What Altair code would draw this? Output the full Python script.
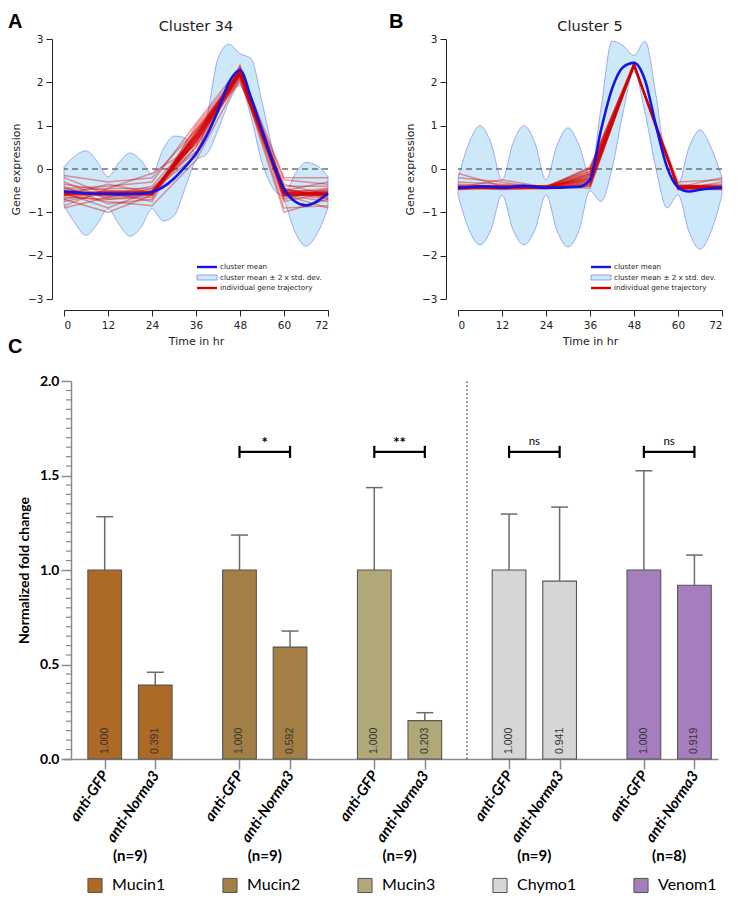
import altair as alt
import pandas as pd

# ---------------- Panels A / B : cluster trajectories ----------------
HOURS = [0, 12, 24, 36, 48, 60, 72]

A_TRAJ = [
    [-0.55, -0.58, -0.55, 0.70, 2.25, -0.55, -0.55],
    [-0.50, -0.60, -0.58, 0.85, 2.20, -0.60, -0.62],
    [-0.62, -0.55, -0.52, 0.60, 2.30, -0.50, -0.58],
    [-0.45, -0.65, -0.60, 0.95, 2.15, -0.65, -0.50],
    [-0.70, -0.50, -0.50, 0.50, 2.35, -0.45, -0.65],
    [-0.30, -0.70, -0.65, 0.80, 2.10, -0.70, -0.45],
    [-0.85, -0.45, -0.45, 0.40, 2.20, -0.55, -0.70],
    [-0.40, -0.80, -0.70, 1.00, 2.25, -0.40, -0.40],
    [-0.60, -0.35, -0.55, 0.65, 2.05, -0.60, -0.75],
    [-0.20, -0.60, -0.40, 0.75, 2.30, -0.50, -0.30],
    [-0.55, -0.90, -0.50, 0.30, 2.40, -0.75, -0.55],
    [-0.75, -0.55, -0.75, 0.90, 2.00, -0.35, -0.60],
    [-0.50, -0.45, -0.10, 0.55, 2.20, -0.90, -0.85],
    [-0.65, -0.70, -0.60, 0.85, 2.30, -0.20, -0.20],
    [-0.35, -0.50, -0.55, 0.70, 2.15, -0.60, -0.90],
    [-0.90, -0.65, -0.45, 0.60, 2.25, -0.50, -0.50],
    [-0.58, -0.52, -0.60, 0.78, 2.18, -0.58, -0.60],
    [-0.52, -0.62, -0.57, 0.68, 2.28, -0.62, -0.52],
    [-0.60, -0.75, -0.85, 0.20, 2.10, -0.45, -0.68],
    [-0.45, -0.40, -0.30, 1.05, 2.35, -0.55, -0.45],
    [-0.15, -0.30, -0.20, 0.90, 2.20, -0.25, -0.35],
    [-0.70, -1.00, -0.60, 0.50, 2.15, -1.00, -0.70],
    [-0.56, -0.56, -0.56, 0.72, 2.22, -0.56, -0.57],
    [-0.54, -0.58, -0.54, 0.76, 2.24, -0.58, -0.56],
    [-0.57, -0.55, -0.57, 0.66, 2.20, -0.54, -0.59],
    [-0.53, -0.57, -0.53, 0.80, 2.26, -0.57, -0.55],
    [-0.59, -0.59, -0.58, 0.62, 2.19, -0.60, -0.60],
    [-0.55, -0.54, -0.52, 0.74, 2.23, -0.53, -0.54],
    [-0.58, -0.60, -0.56, 0.70, 2.21, -0.59, -0.61],
    [-0.52, -0.55, -0.55, 0.78, 2.25, -0.55, -0.53],
    [-0.60, -0.57, -0.59, 0.64, 2.18, -0.56, -0.58],
    [-0.54, -0.53, -0.54, 0.82, 2.27, -0.61, -0.57],
]

B_TRAJ = [
    [-0.42, -0.40, -0.45, -0.40, 2.40, -0.40, -0.42],
    [-0.45, -0.42, -0.40, -0.30, 2.42, -0.42, -0.45],
    [-0.40, -0.45, -0.42, -0.20, 2.38, -0.38, -0.40],
    [-0.38, -0.40, -0.45, -0.10, 2.40, -0.45, -0.48],
    [-0.48, -0.38, -0.40, 0.00, 2.45, -0.40, -0.38],
    [-0.20, -0.30, -0.45, -0.35, 2.36, -0.48, -0.30],
    [-0.44, -0.44, -0.38, -0.45, 2.40, -0.35, -0.44],
    [-0.40, -0.48, -0.42, 0.05, 2.42, -0.42, -0.20],
    [-0.30, -0.35, -0.40, -0.25, 2.38, -0.40, -0.42],
    [-0.46, -0.42, -0.44, -0.15, 2.40, -0.44, -0.46],
    [-0.42, -0.25, -0.42, -0.05, 2.41, -0.38, -0.40],
    [-0.45, -0.46, -0.46, -0.40, 2.39, -0.46, -0.43],
    [-0.35, -0.40, -0.40, -0.28, 2.43, -0.40, -0.35],
    [-0.43, -0.43, -0.43, -0.12, 2.40, -0.43, -0.43],
    [-0.10, -0.40, -0.41, -0.38, 2.40, -0.30, -0.25],
    [-0.47, -0.45, -0.44, 0.02, 2.44, -0.47, -0.45],
    [-0.41, -0.41, -0.39, -0.22, 2.37, -0.41, -0.42],
    [-0.44, -0.38, -0.43, -0.33, 2.41, -0.44, -0.41],
    [-0.42, -0.42, -0.42, -0.18, 2.40, -0.42, -0.42],
    [-0.43, -0.41, -0.43, -0.25, 2.41, -0.41, -0.43],
    [-0.41, -0.43, -0.41, -0.10, 2.39, -0.43, -0.41],
    [-0.44, -0.42, -0.44, -0.30, 2.42, -0.44, -0.44],
    [-0.40, -0.40, -0.40, -0.05, 2.40, -0.40, -0.40],
    [-0.43, -0.44, -0.42, -0.22, 2.38, -0.42, -0.44],
    [-0.42, -0.41, -0.43, -0.15, 2.42, -0.43, -0.42],
    [-0.45, -0.43, -0.41, -0.35, 2.40, -0.41, -0.45],
]

BAND_HOURS = [0, 3, 6, 9, 12, 15, 18, 21, 24, 27, 30, 33, 36,
              39, 42, 45, 48, 51, 54, 57, 60, 63, 66, 69, 72]

A_UPPER = [0.05, 0.30, 0.42, 0.18, -0.18, 0.15, 0.37, 0.20, -0.12, 0.45, 0.76, 0.72, 0.38,
           1.20, 2.55, 2.88, 2.66, 2.55, 1.55, 0.40, -0.60, -0.12, 0.15, 0.08, -0.18]
A_LOWER = [-0.85, -1.25, -1.53, -1.28, -0.92, -1.28, -1.55, -1.35, -0.92, -1.20, -1.08, -0.45, 0.20,
           0.35, 0.90, 1.55, 1.92, 1.20, 0.15, -0.45, -0.72, -1.45, -1.78, -1.50, -0.90]
A_MEAN = [-0.52, -0.54, -0.56, -0.57, -0.57, -0.58, -0.58, -0.57, -0.53, -0.42, -0.22, 0.05, 0.35,
          0.78, 1.35, 2.00, 2.28, 1.65, 0.90, 0.15, -0.45, -0.75, -0.84, -0.75, -0.56]

B_UPPER = [-0.22, 0.60, 1.00, 0.60, -0.25, 0.60, 1.00, 0.60, -0.25, 0.55, 0.95, 0.55, -0.15,
           1.40, 2.95, 2.85, 2.62, 2.95, 1.70, 0.00, -0.35, 0.50, 0.90, 0.50, -0.20]
B_LOWER = [-0.60, -1.40, -1.75, -1.40, -0.60, -1.40, -1.75, -1.40, -0.60, -1.42, -1.80, -1.42, -0.50,
           -0.75, 0.00, 1.30, 2.25, 1.30, 0.00, -0.90, -0.60, -1.45, -1.85, -1.45, -0.60]
B_MEAN = [-0.43, -0.42, -0.40, -0.41, -0.43, -0.41, -0.39, -0.41, -0.43, -0.43, -0.42, -0.41, -0.25,
          0.90, 1.85, 2.35, 2.45, 2.05, 1.00, 0.05, -0.42, -0.52, -0.48, -0.45, -0.43]

CLUSTER_LEGEND = ["cluster mean", "cluster mean \u00b1 2 x std. dev.", "individual gene trajectory"]
TIME_TICKS = [0, 12, 24, 36, 48, 60, 72]
EXPR_TICKS = [-3, -2, -1, 0, 1, 2, 3]

# ---------------- Panel C : qPCR bars ----------------
GENES = ["Mucin1", "Mucin2", "Mucin3", "Chymo1", "Venom1"]
GENE_COLORS = ["#ad6a27", "#a37f45", "#b0a878", "#d6d6d6", "#a57ebe"]
TREATMENTS = ["anti-GFP", "anti-Norma3"]
GFP_MEAN = [1.000, 1.000, 1.000, 1.000, 1.000]
GFP_ERR_TOP = [1.282, 1.185, 1.436, 1.296, 1.525]
NORMA_MEAN = [0.391, 0.592, 0.203, 0.941, 0.919]
NORMA_ERR_TOP = [0.459, 0.677, 0.245, 1.333, 1.079]
N_LABELS = ["(n=9)", "(n=9)", "(n=9)", "(n=9)", "(n=8)"]
SIG_LABELS = ["", "*", "**", "ns", "ns"]
SIG_LEVEL = 1.625
FOLD_TICKS = [0.0, 0.5, 1.0, 1.5, 2.0]
MINOR_FOLD_TICKS = [round(0.05 * k, 2) for k in range(1, 40) if k % 10 != 0]
SEPARATOR_AFTER_GROUP = 2  # dotted line after Mucin3

BLUE = "#1414e8"
RED = "#d60000"
BAND_FILL = "#cde8f8"
BAND_EDGE = "#7b8cf0"
DARK = "#222222"
FONT_AB = "DejaVu Sans"
FONT_C = "Lato"

PW, PH = 264, 260
LETTER_BASELINE = -11


def text_layer(txt, x, y, **kw):
    return alt.Chart(pd.DataFrame({"t": [txt]})).mark_text(**kw).encode(
        text="t:N", x=alt.value(x), y=alt.value(y))


def cluster_panel(title, letter, letter_x, traj, upper, lower, mean):
    xs = alt.Scale(domain=[0, 72], nice=False, zero=False)
    ys = alt.Scale(domain=[-3, 3], nice=False, zero=False)
    xax = alt.Axis(values=TIME_TICKS, title="Time in hr", offset=11, grid=False,
                   domainColor=DARK, tickColor=DARK, tickSize=6, labelFontSize=10.5,
                   labelColor=DARK, titleFontSize=11, titleFontWeight="normal",
                   titleColor=DARK, labelPadding=4, titlePadding=5, labelFont=FONT_AB,
                   titleFont=FONT_AB, format="d")
    yax = alt.Axis(values=EXPR_TICKS, title="Gene expression", offset=12, grid=False,
                   domainColor=DARK, tickColor=DARK, tickSize=6, labelFontSize=10.5,
                   labelColor=DARK, titleFontSize=11, titleFontWeight="normal",
                   titleColor=DARK, labelPadding=3, titlePadding=6, labelFont=FONT_AB,
                   titleFont=FONT_AB, format="d")

    bdf = pd.DataFrame({"hour": BAND_HOURS, "upper": upper, "lower": lower, "mean": mean})
    rows = []
    for gi, vals in enumerate(traj):
        for h, v in zip(HOURS, vals):
            rows.append({"gene": gi, "hour": h, "value": v})
    tdf = pd.DataFrame(rows)

    band = alt.Chart(bdf).mark_area(
        fill=BAND_FILL, stroke=BAND_EDGE, strokeWidth=0.7, interpolate="monotone"
    ).encode(
        x=alt.X("hour:Q", scale=xs, axis=xax),
        y=alt.Y("lower:Q", scale=ys, axis=yax),
        y2="upper:Q",
    )
    zero = alt.Chart(pd.DataFrame({"y": [0]})).mark_rule(
        color="#707070", strokeDash=[6, 4], strokeWidth=1.5
    ).encode(y=alt.Y("y:Q", scale=ys))
    reds = alt.Chart(tdf).mark_line(color=RED, opacity=0.38, strokeWidth=1.5).encode(
        x=alt.X("hour:Q", scale=xs),
        y=alt.Y("value:Q", scale=ys),
        detail="gene:N",
    )
    blue = alt.Chart(bdf).mark_line(color=BLUE, strokeWidth=2.6, interpolate="monotone").encode(
        x=alt.X("hour:Q", scale=xs),
        y=alt.Y("mean:Q", scale=ys),
    )

    layers = [band, zero, reds, blue]

    # in-plot legend
    rows_y = [228, 238.5, 249]
    layers.append(alt.Chart(pd.DataFrame({"t": [CLUSTER_LEGEND[0]]})).mark_rule(
        color=BLUE, strokeWidth=2.4).encode(x=alt.value(133), x2=alt.value(153), y=alt.value(rows_y[0])))
    layers.append(alt.Chart(pd.DataFrame({"t": [CLUSTER_LEGEND[1]]})).mark_rect(
        fill=BAND_FILL, stroke=BAND_EDGE, strokeWidth=0.8).encode(
        x=alt.value(133), x2=alt.value(153), y=alt.value(rows_y[1] - 2.5), y2=alt.value(rows_y[1] + 2.5)))
    layers.append(alt.Chart(pd.DataFrame({"t": [CLUSTER_LEGEND[2]]})).mark_rule(
        color=RED, strokeWidth=2.4).encode(x=alt.value(133), x2=alt.value(153), y=alt.value(rows_y[2])))
    for txt, yy in zip(CLUSTER_LEGEND, rows_y):
        layers.append(text_layer(txt, 156, yy, align="left", baseline="middle", fontSize=7.2,
                                 font=FONT_AB, color=DARK))

    # panel title and letter
    layers.append(text_layer(title, PW / 2, -8, align="center", baseline="alphabetic",
                             fontSize=14.5, font=FONT_AB, color=DARK))
    layers.append(text_layer(letter, letter_x, LETTER_BASELINE, align="left", baseline="alphabetic",
                             fontSize=20, fontWeight="bold", font="Liberation Sans", color="black"))

    return alt.layer(*layers).properties(width=PW, height=PH)


panel_a = cluster_panel("Cluster 34", "A", -56, A_TRAJ, A_UPPER, A_LOWER, A_MEAN)
panel_b = cluster_panel("Cluster 5", "B", -69, B_TRAJ, B_UPPER, B_LOWER, B_MEAN)

# ---------------- Panel C ----------------
GROUP_STEP = 8
UNIT_PX = 16.84
AXIS_INSET = 7  # y axis drawn 7px inside the panel's left edge
X_MIN = -AXIS_INSET / UNIT_PX
X_MAX = 38.4
CW = round((X_MAX - X_MIN) * UNIT_PX)
CH = 378

bar_rows = []
for gi, g in enumerate(GENES):
    for ti, t in enumerate(TREATMENTS):
        m = [GFP_MEAN, NORMA_MEAN][ti][gi]
        top = [GFP_ERR_TOP, NORMA_ERR_TOP][ti][gi]
        pos = gi * GROUP_STEP + 2 + 3 * ti
        bar_rows.append(dict(gene=g, treat=t, pos=pos, lo=pos - 1, hi=pos + 1,
                             cap_lo=pos - 0.5, cap_hi=pos + 0.5, mean=m, top=top,
                             label=f"{m:.3f}"))
bars_df = pd.DataFrame(bar_rows)

sig_rows = []
for gi, s in enumerate(SIG_LABELS):
    if s:
        p0 = gi * GROUP_STEP + 2
        p1 = p0 + 3
        sig_rows.append(dict(sig=s, p0=p0, p1=p1, mid=(p0 + p1) / 2, y=SIG_LEVEL,
                             ylo=SIG_LEVEL - 0.032, yhi=SIG_LEVEL + 0.032,
                             weight="bold" if "*" in s else "normal"))
sig_df = pd.DataFrame(sig_rows)
caps_df = pd.concat([
    sig_df[["p0", "ylo", "yhi"]].rename(columns={"p0": "p"}),
    sig_df[["p1", "ylo", "yhi"]].rename(columns={"p1": "p"}),
])

n_df = pd.DataFrame({"pos": [gi * GROUP_STEP + 3.5 for gi in range(len(GENES))], "n": N_LABELS})
sep_df = pd.DataFrame({"pos": [SEPARATOR_AFTER_GROUP * GROUP_STEP + 7.5]})
minor_df = pd.DataFrame({"v": MINOR_FOLD_TICKS})

GRAY = "#8a8a8a"
cx = alt.Scale(domain=[X_MIN, X_MAX], nice=False, zero=False)
cy = alt.Scale(domain=[0, 2], nice=False)
tick_vals = [gi * GROUP_STEP + 2 + 3 * ti for gi in range(len(GENES)) for ti in range(2)]
c_xaxis = alt.Axis(values=tick_vals,
                   labelExpr=f"datum.value % {GROUP_STEP} == 2 ? '{TREATMENTS[0]}' : '{TREATMENTS[1]}'",
                   labelAngle=-56, labelAlign="right", labelBaseline="middle",
                   labelFont=FONT_C, labelFontSize=15, labelFontWeight="bold",
                   labelFontStyle="italic", labelColor="black", labelPadding=3,
                   labelOverlap=False, labelBound=False, labelFlush=False,
                   domainColor=GRAY, domainWidth=1.5, tickColor=GRAY, tickWidth=1.5,
                   tickSize=10, grid=False, title=None)
c_yaxis = alt.Axis(values=FOLD_TICKS, format=".1f", title="Normalized fold change",
                   offset=-AXIS_INSET,
                   labelFont=FONT_C, labelFontSize=14, labelFontWeight="bold",
                   labelColor="black", labelPadding=2,
                   titleFont=FONT_C, titleFontSize=14, titleFontWeight="bold",
                   titleColor="black", titlePadding=8,
                   domainColor=GRAY, domainWidth=1.5, tickColor=GRAY, tickWidth=1.5,
                   tickSize=10, grid=False)

bars = alt.Chart(bars_df).mark_rect(stroke="#555555", strokeWidth=1.1).encode(
    x=alt.X("lo:Q", scale=cx, axis=c_xaxis),
    x2="hi:Q",
    y=alt.Y("mean:Q", scale=cy, axis=c_yaxis),
    y2=alt.datum(0),
    color=alt.Color("gene:N", scale=alt.Scale(domain=GENES, range=GENE_COLORS),
                    legend=alt.Legend(orient="none", legendX=23, legendY=CH + 118,
                                      direction="horizontal",
                                      columns=5, title=None, symbolType="square", symbolSize=200,
                                      symbolStrokeColor="#555555", symbolStrokeWidth=1,
                                      symbolOpacity=1, labelFont=FONT_C, labelFontSize=16,
                                      labelColor="black", labelOffset=9, columnPadding=54,
                                      padding=0)),
)
err = alt.Chart(bars_df).mark_rule(color="#6b6b6b", strokeWidth=1.5).encode(
    x=alt.X("pos:Q", scale=cx), y=alt.Y("mean:Q", scale=cy), y2="top:Q")
err_cap = alt.Chart(bars_df).mark_rule(color="#6b6b6b", strokeWidth=1.5).encode(
    x=alt.X("cap_lo:Q", scale=cx), x2="cap_hi:Q", y=alt.Y("top:Q", scale=cy))
vals = alt.Chart(bars_df).mark_text(angle=270, align="left", baseline="middle", dx=5,
                                    fontSize=10.5, font="Liberation Sans", color="#333333").encode(
    x=alt.X("pos:Q", scale=cx), y=alt.datum(0), text="label:N")
minor = alt.Chart(minor_df).mark_rule(color=GRAY, strokeWidth=1.2).encode(
    y=alt.Y("v:Q", scale=cy), x=alt.value(AXIS_INSET - 5), x2=alt.value(AXIS_INSET))
sep = alt.Chart(sep_df).mark_rule(color="#333333", strokeWidth=1.2, strokeDash=[1.5, 2.5]).encode(
    x=alt.X("pos:Q", scale=cx), y=alt.datum(0), y2=alt.datum(2))
brk = alt.Chart(sig_df).mark_rule(color="black", strokeWidth=2.2).encode(
    x=alt.X("p0:Q", scale=cx), x2="p1:Q", y=alt.Y("y:Q", scale=cy))
brk_caps = alt.Chart(caps_df).mark_rule(color="black", strokeWidth=2.2).encode(
    x=alt.X("p:Q", scale=cx), y=alt.Y("ylo:Q", scale=cy), y2="yhi:Q")
sig_star = alt.Chart(sig_df[sig_df["weight"] == "bold"]).mark_text(
    fontSize=15, fontWeight="bold", font=FONT_C, color="black", baseline="middle", dy=-9).encode(
    x=alt.X("mid:Q", scale=cx), y=alt.Y("y:Q", scale=cy), text="sig:N")
sig_ns = alt.Chart(sig_df[sig_df["weight"] == "normal"]).mark_text(
    fontSize=11.5, font=FONT_C, color="black", baseline="middle", dy=-10).encode(
    x=alt.X("mid:Q", scale=cx), y=alt.Y("y:Q", scale=cy), text="sig:N")
nlab = alt.Chart(n_df).mark_text(fontSize=15, fontWeight="bold", font=FONT_C, color="black",
                                 baseline="middle").encode(
    x=alt.X("pos:Q", scale=cx), y=alt.value(CH + 97), text="n:N")
c_letter = text_layer("C", -56, -28, align="left", baseline="alphabetic", fontSize=20,
                      fontWeight="bold", font="Liberation Sans", color="black")

panel_c = alt.layer(bars, err, err_cap, vals, minor, sep, brk, brk_caps, sig_star, sig_ns, nlab,
                    c_letter).properties(width=CW, height=CH)

top = alt.hconcat(panel_a, panel_b, spacing=55)
chart = alt.concat(top, panel_c, columns=1, spacing=-10).resolve_scale(
    color="independent"
).resolve_legend(color="independent").properties(
    padding={"left": 0, "top": 4, "right": 0, "bottom": 0}, background="white"
).configure_view(stroke=None)

chart.save("out.html", embed_options={"renderer": "svg", "actions": False})
